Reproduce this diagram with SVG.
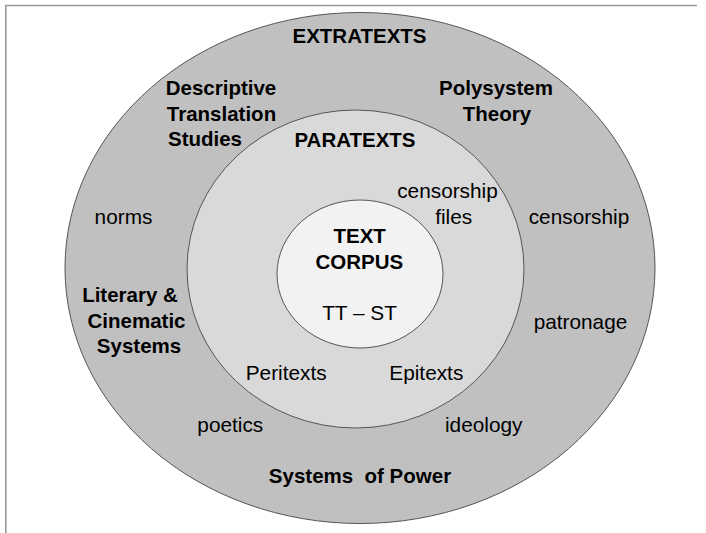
<svg xmlns="http://www.w3.org/2000/svg" width="706" height="533" viewBox="0 0 706 533">
<style>
.b{font-family:"Liberation Sans",Arial,sans-serif;font-weight:bold;font-size:20.5px;fill:#000;text-anchor:middle}
.r{font-family:"Liberation Sans",Arial,sans-serif;font-size:20.8px;fill:#000;text-anchor:middle}
.ring{stroke:#555;stroke-width:1}
</style>
<rect width="706" height="533" fill="#fff"/>
<g id="frame" stroke="#9a9a9a" stroke-width="1.6" fill="none">
<line x1="5" y1="5.5" x2="697" y2="5.5"/>
<line x1="5.8" y1="5" x2="5.8" y2="533"/>
</g>
<g id="extratexts">
<ellipse class="ring" cx="360" cy="268" rx="295" ry="255.5" fill="#c0c0c0"/>
<text class="b" x="359.5" y="42.5">EXTRATEXTS</text>
<text class="b" x="221" y="95">Descriptive</text>
<text class="b" x="221.5" y="120.5">Translation</text>
<text class="b" x="205" y="146">Studies</text>
<text class="b" x="496" y="95">Polysystem</text>
<text class="b" x="497" y="120.5">Theory</text>
<text class="r" x="123.5" y="224">norms</text>
<text class="r" x="579" y="224">censorship</text>
<text class="b" x="130" y="302.3">Literary &amp;</text>
<text class="b" x="136.5" y="327.8">Cinematic</text>
<text class="b" x="139" y="353.3">Systems</text>
<text class="r" x="580.5" y="329">patronage</text>
<text class="r" x="230.3" y="431.7">poetics</text>
<text class="r" x="483.7" y="431.7">ideology</text>
<text class="b" x="360" y="482.7" xml:space="preserve">Systems  of Power</text>
</g>
<g id="paratexts">
<ellipse class="ring" cx="355.5" cy="269" rx="168.5" ry="159" fill="#d9d9d9"/>
<text class="b" x="355" y="146.5">PARATEXTS</text>
<text class="r" x="447.5" y="198">censorship</text>
<text class="r" x="453.7" y="224">files</text>
<text class="r" x="286.2" y="380">Peritexts</text>
<text class="r" x="426.3" y="380">Epitexts</text>
</g>
<g id="text-corpus">
<ellipse class="ring" cx="360" cy="274" rx="83" ry="74" fill="#f2f2f2"/>
<text class="b" x="359.7" y="243.3">TEXT</text>
<text class="b" x="359.3" y="268.5">CORPUS</text>
<text class="r" x="359.5" y="320">TT – ST</text>
</g>
<g id="connectors"/>
</svg>
